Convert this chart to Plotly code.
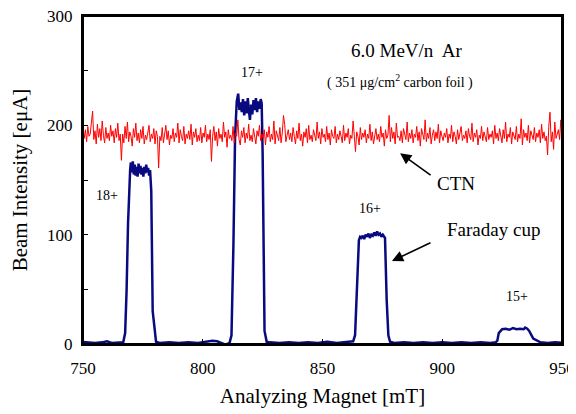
import numpy as np
import plotly.graph_objects as go

ctn_y = [
    193,188,196,185,199,190,192,201,213,187,195,183,201,189,197,186,204,191,184,198,
    188,193,186,200,190,195,184,197,189,202,186,192,168,192,184,199,188,203,185,194,
    190,181,197,189,202,186,193,184,196,188,199,183,191,187,194,200,185,192,188,197,
    183,195,190,161,190,186,198,184,192,200,187,195,182,191,188,197,185,193,189,202,
    184,196,190,186,199,183,192,188,195,187,201,182,194,189,197,185,191,186,198,184,
    193,189,200,185,192,187,196,167,190,199,186,194,181,197,188,192,185,203,189,194,
    180,196,188,191,186,199,184,193,190,205,187,182,195,189,198,184,193,188,201,186,
    191,185,197,189,183,195,190,200,186,192,188,196,182,194,189,199,185,192,187,204,
    183,195,190,186,198,184,193,209,201,185,191,196,187,193,185,198,190,183,195,188,
    202,186,192,181,194,189,197,184,200,187,191,185,196,190,186,203,188,194,183,197,
    189,192,185,199,187,193,182,196,190,188,199,184,192,187,195,190,184,200,186,193,
    189,197,183,191,188,204,185,176,194,190,182,198,187,193,189,196,184,192,188,201,
    186,194,183,190,197,187,192,185,199,189,193,181,196,188,191,209,185,198,188,194,
    183,202,189,190,186,195,184,197,191,187,203,185,193,188,196,184,192,189,199,186,
    194,181,197,190,187,205,185,193,188,198,183,191,196,186,194,188,201,184,195,190,
    186,193,189,197,184,192,188,200,185,194,190,183,196,187,192,199,186,191,188,195,
    184,197,190,187,202,185,193,189,196,182,191,188,199,186,194,190,185,198,187,192,
    189,195,183,200,188,193,186,197,190,184,196,188,203,185,192,189,198,183,194,190,
    187,199,185,192,188,206,182,196,189,193,186,200,184,195,190,187,198,185,193,189,
    196,184,201,188,194,186,190,173,199,212,185,194,178,203,188,192,196,187,205,193,
]
ctn_x = np.linspace(750, 950, len(ctn_y))

# Faraday cup signal (hand-read points)
fc_x = [749.5, 752, 755, 758, 760, 762, 765, 766.8,
        767.6, 768.2, 768.8, 769.3, 769.7, 770.0, 770.4, 770.8, 771.2, 771.6, 772.0, 772.4,
        772.8, 773.2, 773.6, 774.0, 774.4, 774.8, 775.2, 775.6, 776.0, 776.4, 776.8, 777.2,
        777.6, 778.0, 778.5, 779.1, 779.6, 780.5, 782, 786, 790, 794, 798, 802, 804, 806, 808, 809.5, 811.2,
        812.0, 812.8, 813.5, 814.2, 814.8, 815.3, 815.8, 816.3, 816.8, 817.3, 817.8, 818.3, 818.8,
        819.3, 819.7, 820.2, 820.7, 821.2, 821.7, 822.2, 822.7, 823.2, 823.7, 824.2, 824.6, 825.0,
        825.8, 826.7, 828, 832, 836, 840, 844, 848, 852, 856, 860, 862.8,
        863.6, 864.4, 865.2, 865.7, 866.2, 866.8, 867.4, 868.0, 868.6, 869.2, 869.8, 870.4, 871.0,
        871.6, 872.2, 872.8, 873.4, 874.0, 874.6, 875.2, 876.1, 876.8, 877.5, 878.2, 880, 884, 888,
        892, 896, 900, 904, 908, 912, 916, 920, 922.3, 923.0, 923.6, 925, 926.5, 928, 929.5, 931,
        932.5, 934.0, 934.6, 935.5, 936.3, 938, 941, 944, 947, 950.5]
fc_y = [2, 1.5, 1, 1.5, 2.5, 1, 1.5, 1.5,
        10, 49, 110, 145, 160, 166, 157, 167, 155, 164, 154, 162,
        153, 165, 156, 163, 155, 161, 153, 162, 156, 164, 157, 161,
        154, 159, 140, 30, 20, 2, 1, 1.5, 1, 1.5, 1, 2, 3, 2.5, 1, -0.5, 1,
        8, 90, 190, 222, 229, 214, 221, 212, 224, 209, 222, 211, 225,
        213, 205, 219, 210, 223, 214, 225, 212, 222, 215, 224, 220, 175,
        12, 2, 1.5, 1, 1.5, 1, 1.5, 1, 2, 1, 1.5, 2.5,
        8, 60, 95, 98, 97, 99, 96, 100, 98, 101, 97, 100, 99,
        102, 99, 103, 100, 101, 98, 100, 97, 40, 8, 2, 1, 1.5, 1,
        1.5, 1, 1.5, 1, 1.5, 1, 1.5, 1, 1.5, 3, 10, 13.5, 14, 13, 14.5, 13.5, 14, 13.5,
        15, 14, 12, 5, 1.5, 1, 1.5, 1, 1.5, 1.5]

x_ticks = [750, 800, 850, 900, 950]
y_ticks = [0, 50, 100, 150, 200, 250, 300]
y_ticktext = ["0", "", "100", "", "200", "", "300"]

fig = go.Figure()
# CTN on overlay axes (same ranges) which carry the inward tick marks
fig.add_trace(go.Scatter(x=ctn_x, y=ctn_y, mode="lines", xaxis="x2", yaxis="y2",
                         line=dict(color="#ff0000", width=1), cliponaxis=True))
fig.add_trace(go.Scatter(x=fc_x, y=fc_y, mode="lines",
                         line=dict(color="#0a0a80", width=2.5), cliponaxis=False))

serif = "Liberation Serif, Times New Roman, serif"
ann = []
def txt(x, y, s, size):
    ann.append(dict(x=x, y=y, xref="x", yref="y", text=s, showarrow=False,
                    font=dict(family=serif, size=size, color="black")))
txt(885.3, 268, "6.0 MeV/n  Ar", 19)
txt(882.4, 239.7, "( 351 μg/cm<sup>2</sup> carbon foil )", 14)
txt(820.6, 248, "17+", 14)
txt(760, 135.7, "18+", 14)
txt(869.8, 123.5, "16+", 14)
txt(931.2, 43, "15+", 14)
txt(905.7, 146.8, "CTN", 19)
txt(921.2, 104.3, "Faraday cup", 19)
ann.append(dict(x=882.4, y=174.5, xref="x", yref="y", ax=32, ay=23, text="",
                showarrow=True, arrowhead=2, arrowsize=1.4, arrowwidth=1.6, arrowcolor="black"))
ann.append(dict(x=879.0, y=75.9, xref="x", yref="y", ax=40, ay=-19, text="",
                showarrow=True, arrowhead=2, arrowsize=1.4, arrowwidth=1.6, arrowcolor="black"))

# the page body shifts the figure by 8px, margins compensate
fig.update_layout(
    width=576, height=414,
    margin=dict(l=75, r=22, t=8, b=78),
    paper_bgcolor="white", plot_bgcolor="white",
    showlegend=False,
    annotations=ann,
    shapes=[dict(type="rect", xref="paper", yref="paper", x0=0, x1=1, y0=0, y1=1,
                 line=dict(color="black", width=2), layer="above")],
    font=dict(family=serif, color="black"),
    xaxis=dict(range=[750, 950], tickvals=x_ticks,
               ticks="outside", ticklen=8, tickcolor="rgba(0,0,0,0)", automargin=False,
               showline=True, linecolor="black", linewidth=2, mirror=True,
               showgrid=False, zeroline=False, ticklabeloverflow="allow",
               tickfont=dict(family=serif, size=17),
               title=dict(text="Analyzing Magnet [mT]", font=dict(family=serif, size=21),
                          standoff=11)),
    yaxis=dict(range=[0, 300], tickvals=y_ticks, ticktext=y_ticktext,
               ticks="outside", ticklen=5, tickcolor="rgba(0,0,0,0)", automargin=False,
               showline=True, linecolor="black", linewidth=2, mirror=True,
               showgrid=False, zeroline=False, ticklabeloverflow="allow",
               tickfont=dict(family=serif, size=17),
               title=dict(text="Beam Intensity [eμA]", font=dict(family=serif, size=21))),
    xaxis2=dict(range=[750, 950], tickvals=x_ticks, overlaying="x", anchor="y2",
                ticks="inside", ticklen=5, tickcolor="black", showticklabels=False,
                showline=False, showgrid=False, zeroline=False, automargin=False),
    yaxis2=dict(range=[0, 300], tickvals=y_ticks, overlaying="y", anchor="x2",
                ticks="inside", ticklen=5, tickcolor="black", showticklabels=False,
                showline=False, showgrid=False, zeroline=False, automargin=False),
)
fig.write_html("out.html")
